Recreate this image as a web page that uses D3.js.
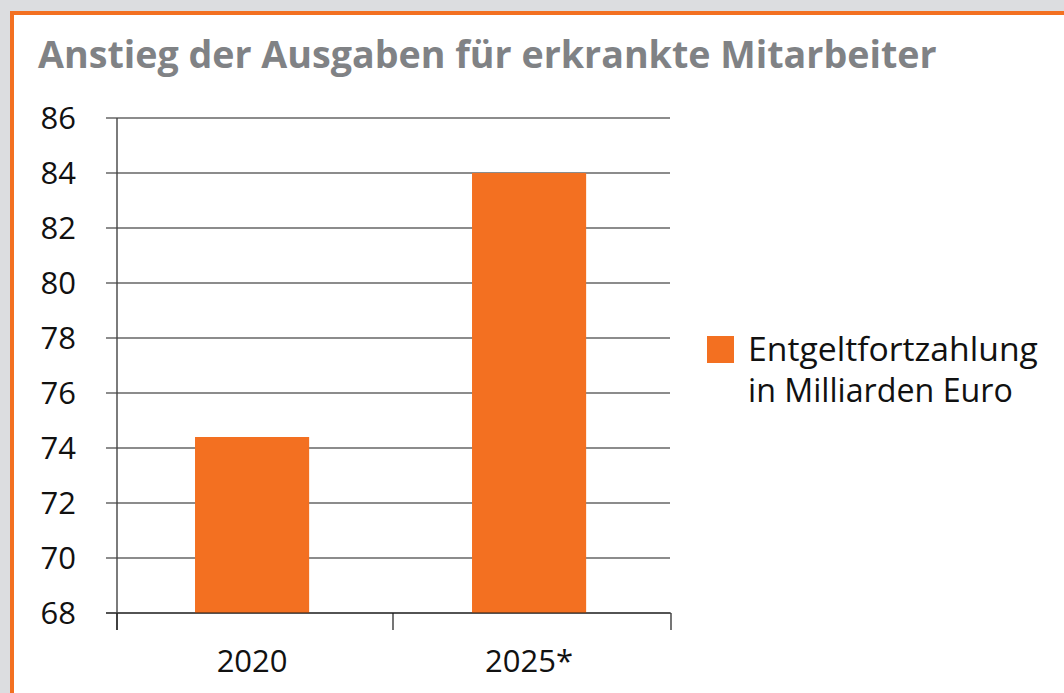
<!DOCTYPE html>
<html><head><meta charset="utf-8">
<script src="https://cdn.jsdelivr.net/npm/d3@7"></script>
<style>html,body{margin:0;padding:0;background:#dcdde0;overflow:hidden}</style>
</head><body>
<svg id="c" width="1064" height="693"></svg>
<script>
const title = "Anstieg der Ausgaben für erkrankte Mitarbeiter";
const categories = ["2020", "2025*"];
const values = [74.4, 84];
const yTicks = [68, 70, 72, 74, 76, 78, 80, 82, 84, 86];
const legendLines = ["Entgeltfortzahlung", "in Milliarden Euro"];

const orange = "#f37021", gray = "#808285";
const font = "'Open Sans', sans-serif";
const svg = d3.select("#c");

svg.append("rect").attr("x", 12).attr("y", 13).attr("width", 1064).attr("height", 700)
  .attr("fill", "#fff").attr("stroke", orange).attr("stroke-width", 4);

function fit(sel, base, width) {
  sel.attr("font-size", base);
  const w = sel.node().getComputedTextLength();
  sel.attr("font-size", base * width / w);
}

const t = svg.append("text").attr("x", 38).attr("y", 68).attr("fill", gray)
  .attr("font-family", font).attr("font-weight", 700).text(title);
fit(t, 40, 899);

const y = d3.scaleLinear().domain([68, 86]).range([613, 118]);
const x = d3.scaleBand().domain(categories).range([117, 671])
  .paddingInner(0.588).paddingOuter(0.294).align(0.479);

svg.append("g").selectAll("line").data(yTicks).join("line")
  .attr("x1", 106).attr("x2", 670).attr("y1", d => y(d)).attr("y2", d => y(d))
  .attr("stroke", "#1a1a1a").attr("stroke-width", 1.2);

svg.append("g").selectAll("rect").data(values).join("rect")
  .attr("x", (d, i) => x(categories[i])).attr("width", x.bandwidth())
  .attr("y", d => y(d)).attr("height", d => y(68) - y(d)).attr("fill", orange);

svg.append("line").attr("x1", 106).attr("x2", 671).attr("y1", y(68)).attr("y2", y(68))
  .attr("stroke", "#1a1a1a").attr("stroke-width", 1.2);

svg.append("line").attr("x1", 117).attr("x2", 117).attr("y1", y(86)).attr("y2", 630)
  .attr("stroke", "#444").attr("stroke-width", 1.4);

const bounds = [117, 393, 671];
svg.append("g").selectAll("line").data(bounds).join("line")
  .attr("x1", d => d).attr("x2", d => d).attr("y1", y(68)).attr("y2", 630)
  .attr("stroke", "#1a1a1a").attr("stroke-width", 1.2);

svg.append("g").selectAll("text").data(yTicks).join("text")
  .attr("x", 76).attr("y", d => y(d)).attr("dy", "0.36em").attr("text-anchor", "end")
  .attr("font-family", font).attr("font-size", 31).attr("fill", "#111").text(d => d);

svg.append("g").selectAll("text").data(categories).join("text")
  .attr("x", d => x(d) + x.bandwidth() / 2).attr("y", 672).attr("text-anchor", "middle")
  .attr("font-family", font).attr("font-size", 31).attr("fill", "#111").text(d => d);

svg.append("rect").attr("x", 707).attr("y", 336).attr("width", 27).attr("height", 27).attr("fill", orange);
const l1 = svg.append("text").attr("x", 748).attr("y", 361)
  .attr("font-family", font).attr("fill", "#111").text(legendLines[0]);
fit(l1, 30, 290);
const l2 = svg.append("text").attr("x", 748).attr("y", 402)
  .attr("font-family", font).attr("fill", "#111").text(legendLines[1]);
fit(l2, 30, 265);
</script>
</body></html>
